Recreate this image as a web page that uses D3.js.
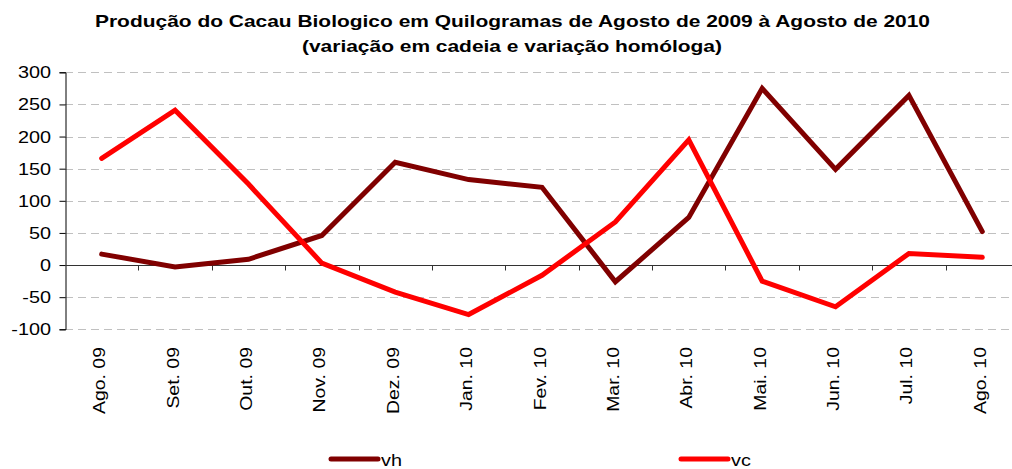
<!DOCTYPE html>
<html>
<head>
<meta charset="utf-8">
<script src="https://cdn.jsdelivr.net/npm/d3@7"></script>
<style>
  body { margin: 0; background: #fff; }
  svg { display: block; font-family: "Liberation Sans", Arial, sans-serif; }
</style>
</head>
<body>
<div id="chart"></div>
<script>
// chart data
const months = ["Ago. 09", "Set. 09", "Out. 09", "Nov. 09", "Dez. 09", "Jan. 10", "Fev. 10",
                "Mar. 10", "Abr. 10", "Mai. 10", "Jun. 10", "Jul. 10", "Ago. 10"];
const vh = [17, -3, 9, 46, 160, 133, 121, -26, 74, 275, 149, 264, 52];
const vc = [166, 241, 126, 3, -42, -77, -16, 67, 195, -25, -65, 18, 12];
const yTicks = [-100, -50, 0, 50, 100, 150, 200, 250, 300];

const width = 1012, height = 469;
const stretch = 1.24; // the original text is drawn a bit wider than normal Arial

const svg = d3.select("#chart").append("svg")
  .attr("width", width)
  .attr("height", height);

// plot area runs a bit past the right edge, like the original
const x = d3.scaleBand().domain(months).range([65, 1019]);
const y = d3.scaleLinear().domain([-100, 300]).range([329.3, 72.3]);

// title, stretched to the original widths
svg.append("text")
  .attr("x", 95).attr("y", 27)
  .attr("textLength", 835).attr("lengthAdjust", "spacingAndGlyphs")
  .style("font-weight", "bold").style("font-size", "17px")
  .text("Produção do Cacau Biologico em Quilogramas de Agosto de 2009 à Agosto de 2010");
svg.append("text")
  .attr("x", 302).attr("y", 52)
  .attr("textLength", 420).attr("lengthAdjust", "spacingAndGlyphs")
  .style("font-weight", "bold").style("font-size", "17px")
  .text("(variação em cadeia e variação homóloga)");

// dashed gridlines
svg.append("g")
  .selectAll("line")
  .data(yTicks.filter(d => d !== 0))
  .join("line")
  .attr("x1", 65).attr("x2", width)
  .attr("y1", d => Math.round(y(d)) + 0.5).attr("y2", d => Math.round(y(d)) + 0.5)
  .attr("stroke", "#c0c0c0")
  .attr("stroke-dasharray", "8,5");

// y axis line and ticks
const yAxis = svg.append("g")
  .attr("transform", "translate(65.5,0)")
  .call(d3.axisLeft(y).tickValues(yTicks).tickSize(6).tickFormat(""));
yAxis.select(".domain").attr("stroke", "#000");
yAxis.selectAll(".tick line").attr("stroke", "#000");

// y labels drawn by hand so they can be stretched
svg.append("g")
  .selectAll("text")
  .data(yTicks)
  .join("text")
  .attr("transform", d => `translate(51,${y(d) + 6}) scale(${stretch},1)`)
  .attr("text-anchor", "end")
  .style("font-size", "16px")
  .text(d => d);

// zero axis with ticks between categories
const zeroY = Math.round(y(0)) + 0.5;
svg.append("line")
  .attr("x1", 65).attr("x2", width)
  .attr("y1", zeroY).attr("y2", zeroY)
  .attr("stroke", "#333");
svg.append("g")
  .selectAll("line")
  .data(months.slice(1))
  .join("line")
  .attr("x1", d => Math.round(x(d)) + 0.5).attr("x2", d => Math.round(x(d)) + 0.5)
  .attr("y1", zeroY).attr("y2", zeroY + 5)
  .attr("stroke", "#333");

// category labels, rotated
svg.append("g")
  .selectAll("text")
  .data(months)
  .join("text")
  .attr("transform", d => `translate(${x(d) + x.bandwidth() / 2 + 3.5},347) rotate(-90) scale(${stretch * 0.98},1)`)
  .attr("text-anchor", "end")
  .style("font-size", "16px")
  .text(d => d);

// lines
const line = d3.line()
  .x((d, i) => x(months[i]) + x.bandwidth() / 2)
  .y(d => y(d));

const series = [
  { name: "vh", values: vh, color: "#800000" },
  { name: "vc", values: vc, color: "#ff0000" }
];

svg.append("g")
  .selectAll("path")
  .data(series)
  .join("path")
  .attr("d", d => line(d.values))
  .attr("fill", "none")
  .attr("stroke", d => d.color)
  .attr("stroke-width", 5)
  .attr("stroke-linejoin", "miter")
  .attr("stroke-linecap", "round");

// legend
const legendX = [331, 681];
const legend = svg.append("g")
  .selectAll("g")
  .data(series)
  .join("g")
  .attr("transform", (d, i) => `translate(${legendX[i]},459)`);
legend.append("line")
  .attr("x1", 0).attr("x2", 47)
  .attr("stroke", d => d.color)
  .attr("stroke-width", 5)
  .attr("stroke-linecap", "round");
legend.append("text")
  .attr("transform", `translate(50,7) scale(${stretch},1)`)
  .style("font-size", "16px")
  .text(d => d.name);
</script>
</body>
</html>
